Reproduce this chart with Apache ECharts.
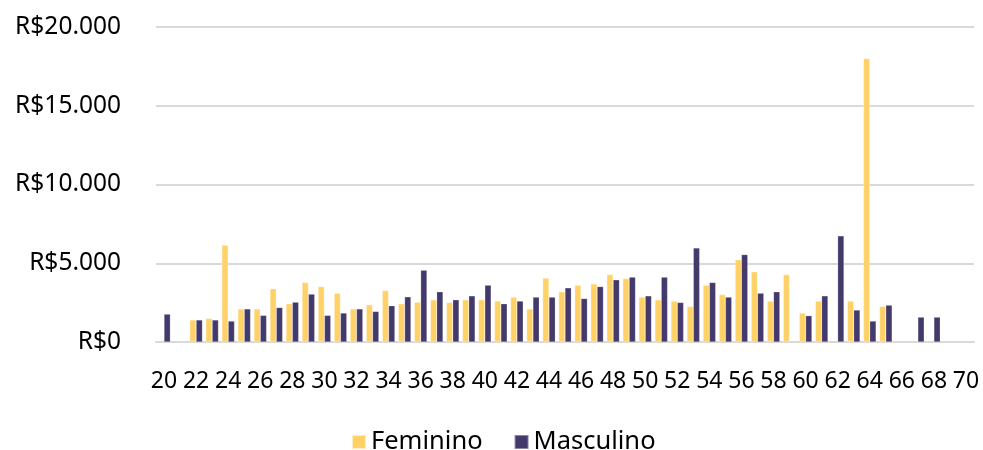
<!DOCTYPE html>
<html>
<head>
<meta charset="utf-8">
<script src="https://cdn.jsdelivr.net/npm/echarts@6/dist/echarts.min.js"></script>
<style>
html,body{margin:0;padding:0;background:#fff;}
#chart{width:983px;height:450px;}
</style>
</head>
<body>
<div id="chart"></div>
<script>
const categories = ['20','21','22','23','24','25','26','27','28','29','30','31','32','33','34','35','36','37','38','39','40','41','42','43','44','45','46','47','48','49','50','51','52','53','54','55','56','57','58','59','60','61','62','63','64','65','66','67','68','69','70'];
const feminino = [null,null,1400,1500,6150,2100,2100,3380,2430,3780,3520,3100,2100,2360,3270,2430,2530,2680,2510,2680,2680,2600,2850,2100,4060,3190,3610,3690,4280,4030,2850,2680,2600,2260,3610,3020,5220,4460,2600,4280,1840,2600,null,2600,18000,2260,null,null,null,null,null];
const masculino = [1770,null,1400,1400,1330,2100,1690,2190,2530,3040,1690,1840,2100,1940,2300,2870,4560,3190,2680,2930,3610,2430,2600,2850,2850,3440,2760,3520,3950,4120,2930,4120,2510,5970,3780,2850,5550,3100,3190,null,1670,2930,6740,2030,1330,2340,null,1580,1580,null,null];
const yTicks = [0, 5000, 10000, 15000, 20000];

const chart = echarts.init(document.getElementById('chart'), null, {renderer:'canvas'});
const fontFamily = '"Noto Sans", "Open Sans", sans-serif';
function brl(v){
  return 'R$' + String(v).replace(/\B(?=(\d{3})+(?!\d))/g, '.');
}
chart.setOption({
  animation:false,
  textStyle:{fontFamily:fontFamily},
  grid:{left:156, right:9, top:27, bottom:108, containLabel:false},
  legend:{
    data:['Feminino','Masculino'],
    top:424,
    left:346,
    itemWidth:14, itemHeight:14, itemGap:31,
    icon:'rect',
    textStyle:{fontSize:25.5, color:'#000', fontFamily:fontFamily}
  },
  xAxis:{
    type:'category',
    data:categories,
    axisTick:{show:false},
    axisLine:{lineStyle:{color:'#D9D9D9', width:2}},
    axisLabel:{interval:1, fontSize:23, color:'#000', margin:28, fontFamily:fontFamily}
  },
  yAxis:{
    type:'value',
    min:yTicks[0], max:yTicks[yTicks.length-1], interval:5000,
    axisLine:{show:false},
    axisTick:{show:false},
    splitLine:{lineStyle:{color:'#D9D9D9', width:2}},
    axisLabel:{fontSize:24.5, color:'#000', margin:35, formatter:brl, fontFamily:fontFamily}
  },
  series:[
    {name:'Feminino', type:'bar', data:feminino, barGap:'0%', barCategoryGap:'21%',
     itemStyle:{color:'#FFD166', borderColor:'rgba(255,255,255,0.6)', borderWidth:0.5}},
    {name:'Masculino', type:'bar', data:masculino, barGap:'0%', barCategoryGap:'21%',
     itemStyle:{color:'#433A6B', borderColor:'rgba(255,255,255,0.4)', borderWidth:0.5}}
  ]
});
</script>
</body>
</html>
